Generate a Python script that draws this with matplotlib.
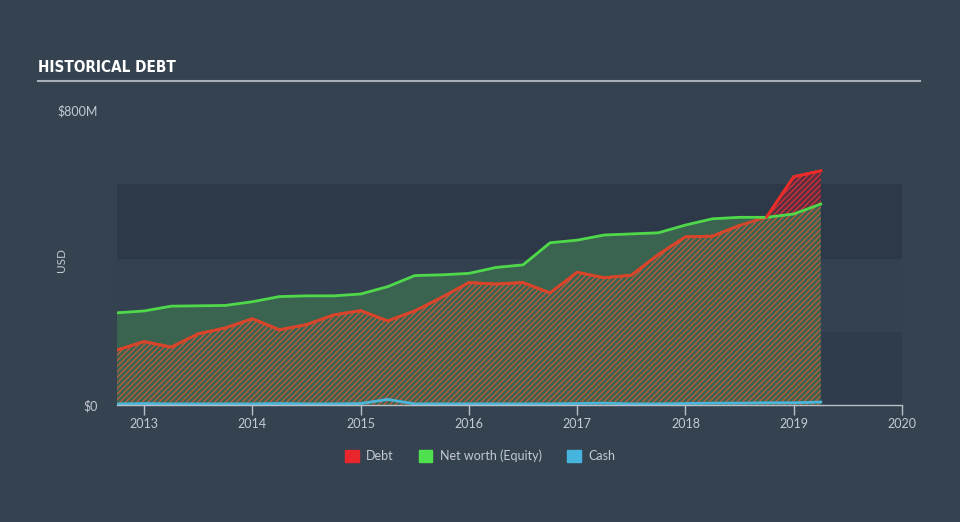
import matplotlib.pyplot as plt
import numpy as np
from matplotlib.patches import Patch
from matplotlib import font_manager

# quarterly values, $M
quarters = [2012.75, 2013.00, 2013.25, 2013.50, 2013.75, 2014.00, 2014.25, 2014.50, 2014.75,
            2015.00, 2015.25, 2015.50, 2015.75, 2016.00, 2016.25, 2016.50, 2016.75, 2017.00,
            2017.25, 2017.50, 2017.75, 2018.00, 2018.25, 2018.50, 2018.75, 2019.00, 2019.25]
debt = [149, 172, 157, 193, 209, 234, 204, 218, 244, 256, 228, 255, 292, 332, 328, 332, 304, 360,
        345, 352, 408, 456, 458, 487, 510, 619, 635]
equity = [250, 255, 268, 269, 270, 280, 294, 296, 296, 301, 321, 351, 353, 357, 373, 380, 440, 447,
          461, 464, 467, 488, 505, 509, 509, 518, 545]
cash = [3, 4, 3, 3, 3, 3, 4, 3, 3, 4, 15, 3, 3, 3, 3, 3, 3, 4, 5, 3, 3, 4, 5, 5, 6, 6, 8]

year_ticks = [2013, 2014, 2015, 2016, 2017, 2018, 2019, 2020]

bg = '#354351'
text_col = '#c3cad2'
plt.rcParams['hatch.linewidth'] = 0.9

x = np.array(quarters)
d = np.array(debt)
e = np.array(equity)
c = np.array(cash)

fig = plt.figure(figsize=(9.6, 5.22), dpi=100, facecolor=bg)
ax = fig.add_axes([117/960, 1 - 405/522, 785/960, 295/522])
ax.set_facecolor(bg)
ax.set_xlim(quarters[0], 2020)
ax.set_ylim(0, 800)

# background bands
ax.axhspan(0, 200, color='#2f3c4b', zorder=0)
ax.axhspan(200, 400, color='#334151', zorder=0)
ax.axhspan(400, 600, color='#2d3948', zorder=0)

# equity area
ax.fill_between(x, 0, e, facecolor='#3a6450', edgecolor='none', zorder=1)
# debt area, hatched
ax.fill_between(x, 0, np.minimum(d, e), facecolor='none', edgecolor='#c45a3c',
                hatch='//////', linewidth=0, zorder=2)
ax.fill_between(x, e, d, where=d > e, interpolate=True, facecolor='#5a2f40',
                edgecolor='#d8303a', hatch='//////', linewidth=0, zorder=2)

ax.plot(x, e, color='#4fd94a', lw=2, zorder=4)
ax.plot(x, np.where(d > e, np.nan, d), color='#d8452b', lw=2, zorder=4)
ax.plot(x, d, color='#d8452b', lw=2, zorder=3)
ax.plot(x[-3:], d[-3:], color='#ec2a2a', lw=2, zorder=4)
ax.plot(x, c, color='#4ab6dc', lw=2, zorder=5)

for s in ['top', 'right', 'left']:
    ax.spines[s].set_visible(False)
ax.spines['bottom'].set_color('#b8bfc7')
ax.spines['bottom'].set_linewidth(1)
ax.spines['bottom'].set_zorder(6)

ax.set_xticks(year_ticks)
ax.set_xticklabels([str(y) for y in year_ticks])
ax.tick_params(axis='x', colors='#b8bfc7', labelcolor=text_col, length=7, width=1,
               labelsize=9, pad=2)
ax.set_yticks([0, 800])
ax.set_yticklabels(['$0', '$800M'])
ax.tick_params(axis='y', length=0, labelcolor=text_col, labelsize=9, pad=14)
for lab in ax.get_xticklabels() + ax.get_yticklabels():
    lab.set_fontfamily('Lato')

fig.text(62/960, 1 - 260/522, 'USD', rotation=90, color=text_col, fontsize=8.5,
         ha='center', va='center', family='Lato')

# title, condensed if available
names = {f.name for f in font_manager.fontManager.ttflist}
if 'Liberation Sans Narrow' in names:
    title_kw = dict(family='Liberation Sans Narrow', fontsize=12.5)
elif any(f.name == 'DejaVu Sans' and f.stretch == 'condensed' for f in font_manager.fontManager.ttflist):
    title_kw = dict(family='DejaVu Sans', fontstretch='condensed', fontsize=11)
else:
    title_kw = dict(family='Roboto', fontsize=11)
fig.text(38/960, 1 - 68/522, 'HISTORICAL DEBT', color='white', fontweight='bold',
         ha='left', va='center', **title_kw)
fig.add_artist(plt.Line2D([38/960, 920/960], [1 - 81/522, 1 - 81/522],
                          color='#a9b0b8', lw=1.5))

handles = [Patch(color='#e8262b', label='Debt'),
           Patch(color='#4fe04f', label='Net worth (Equity)'),
           Patch(color='#46b4dc', label='Cash')]
leg = fig.legend(handles=handles, loc='center', bbox_to_anchor=(480/960, 1 - 456/522),
                 ncol=3, frameon=False, fontsize=9, handlelength=1.1, handleheight=1.0,
                 handletextpad=0.6, columnspacing=2.0)
for t in leg.get_texts():
    t.set_color(text_col)
    t.set_fontfamily('Lato')

plt.savefig('out.png', dpi=100, facecolor=bg)
